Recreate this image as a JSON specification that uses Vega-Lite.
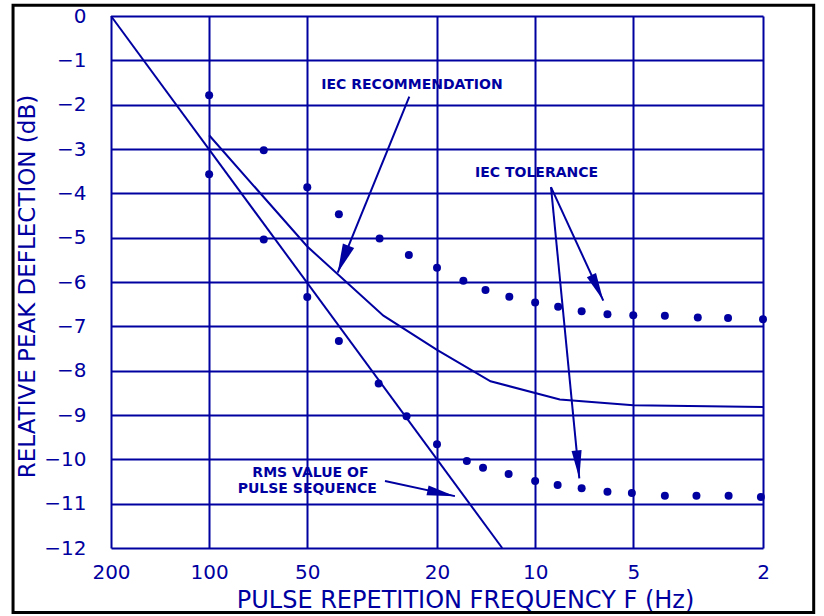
{
  "$schema": "https://vega.github.io/schema/vega-lite/v6.json",
  "width": 652,
  "height": 532,
  "autosize": {"type": "none"},
  "padding": {"left": 111, "top": 16, "right": 61, "bottom": 68},
  "background": "white",
  "config": {"view": {"stroke": null}, "font": "DejaVu Sans"},
  "datasets": {
    "rms": [
      {"f": 200, "db": 0},
      {"f": 12.62, "db": -12}
    ],
    "iec": [
      {"f": 100, "db": -2.69},
      {"f": 50, "db": -5.2},
      {"f": 29.2, "db": -6.76},
      {"f": 20, "db": -7.53},
      {"f": 13.7, "db": -8.24},
      {"f": 8.4, "db": -8.65},
      {"f": 5, "db": -8.78},
      {"f": 2, "db": -8.82}
    ],
    "tolerance": [
      {"bound": "upper", "f": 100, "db": -1.79},
      {"bound": "upper", "f": 68, "db": -3.03},
      {"bound": "upper", "f": 50, "db": -3.86},
      {"bound": "upper", "f": 40, "db": -4.47},
      {"bound": "upper", "f": 30, "db": -5.02},
      {"bound": "upper", "f": 24.4, "db": -5.39},
      {"bound": "upper", "f": 20, "db": -5.68},
      {"bound": "upper", "f": 16.6, "db": -5.97},
      {"bound": "upper", "f": 14.2, "db": -6.18},
      {"bound": "upper", "f": 12, "db": -6.33},
      {"bound": "upper", "f": 10, "db": -6.46},
      {"bound": "upper", "f": 8.5, "db": -6.56},
      {"bound": "upper", "f": 7.2, "db": -6.66},
      {"bound": "upper", "f": 6, "db": -6.73},
      {"bound": "upper", "f": 5, "db": -6.75},
      {"bound": "upper", "f": 4, "db": -6.76},
      {"bound": "upper", "f": 3.17, "db": -6.8},
      {"bound": "upper", "f": 2.56, "db": -6.81},
      {"bound": "upper", "f": 2, "db": -6.84},
      {"bound": "lower", "f": 100, "db": -3.57},
      {"bound": "lower", "f": 68, "db": -5.04},
      {"bound": "lower", "f": 50, "db": -6.34},
      {"bound": "lower", "f": 40, "db": -7.33},
      {"bound": "lower", "f": 30.2, "db": -8.29},
      {"bound": "lower", "f": 24.8, "db": -9.03},
      {"bound": "lower", "f": 20, "db": -9.66},
      {"bound": "lower", "f": 16.2, "db": -10.04},
      {"bound": "lower", "f": 14.45, "db": -10.19},
      {"bound": "lower", "f": 12.06, "db": -10.33},
      {"bound": "lower", "f": 10, "db": -10.49},
      {"bound": "lower", "f": 8.53, "db": -10.58},
      {"bound": "lower", "f": 7.2, "db": -10.65},
      {"bound": "lower", "f": 6, "db": -10.73},
      {"bound": "lower", "f": 5.05, "db": -10.76},
      {"bound": "lower", "f": 4, "db": -10.82},
      {"bound": "lower", "f": 3.2, "db": -10.82},
      {"bound": "lower", "f": 2.55, "db": -10.82},
      {"bound": "lower", "f": 2.03, "db": -10.85}
    ],
    "minorTicks": [
      {"f": 150}, {"f": 90}, {"f": 80}, {"f": 70}, {"f": 60},
      {"f": 40}, {"f": 30}, {"f": 15},
      {"f": 9}, {"f": 8}, {"f": 7}, {"f": 6}, {"f": 4}, {"f": 3}
    ],
    "labels": [
      {"label": "IEC RECOMMENDATION", "f": 23.86, "db": -1.55},
      {"label": "IEC TOLERANCE", "f": 9.9, "db": -3.55},
      {"label": "RMS VALUE OF", "f": 48.9, "db": -10.3},
      {"label": "PULSE SEQUENCE", "f": 50, "db": -10.68}
    ],
    "arrows": [
      {"arrow": "iec", "end": "start", "f": 24.32, "db": -1.82},
      {"arrow": "iec", "end": "tip", "f": 40.34, "db": -5.79},
      {"arrow": "tol1", "end": "start", "f": 8.94, "db": -3.86},
      {"arrow": "tol1", "end": "tip", "f": 6.18, "db": -6.42},
      {"arrow": "tol2", "end": "start", "f": 8.94, "db": -3.86},
      {"arrow": "tol2", "end": "tip", "f": 7.32, "db": -10.43},
      {"arrow": "rms", "end": "start", "f": 28.88, "db": -10.49},
      {"arrow": "rms", "end": "tip", "f": 17.62, "db": -10.83}
    ],
    "frame": [
      {"f": 399.5, "f2": 1.398, "db": 0.244, "db2": -13.453}
    ]
  },
  "encoding": {
    "x": {
      "field": "f",
      "type": "quantitative",
      "scale": {"type": "log", "domain": [2, 200], "reverse": true, "nice": false},
      "axis": {
        "values": [200, 100, 50, 20, 10, 5, 2],
        "format": "d",
        "grid": true,
        "gridColor": "#0000A0",
        "gridWidth": 2,
        "gridOpacity": 1,
        "domain": false,
        "ticks": false,
        "tickSize": 0,
        "labelFont": "DejaVu Sans",
        "labelFontSize": 20,
        "labelColor": "#0000A0",
        "labelPadding": 14,
        "labelFlush": false,
        "labelOverlap": false,
        "title": "PULSE REPETITION FREQUENCY F (Hz)",
        "titleFont": "DejaVu Sans",
        "titleFontSize": 24,
        "titleFontWeight": "normal",
        "titleColor": "#0000A0",
        "titleX": 354,
        "titleY": 52,
        "titleBaseline": "middle"
      }
    },
    "y": {
      "field": "db",
      "type": "quantitative",
      "scale": {"domain": [-12, 0], "nice": false, "zero": false},
      "axis": {
        "values": [0, -1, -2, -3, -4, -5, -6, -7, -8, -9, -10, -11, -12],
        "format": "d",
        "grid": true,
        "gridColor": "#0000A0",
        "gridWidth": 2,
        "gridOpacity": 1,
        "domain": false,
        "ticks": false,
        "tickSize": 0,
        "labelFont": "DejaVu Sans",
        "labelFontSize": 20,
        "labelColor": "#0000A0",
        "labelPadding": 25,
        "labelFlush": false,
        "labelOverlap": false,
        "title": "RELATIVE PEAK DEFLECTION (dB)",
        "titleFont": "DejaVu Sans",
        "titleFontSize": 23,
        "titleFontWeight": "normal",
        "titleColor": "#0000A0",
        "titleX": -84,
        "titleY": 270,
        "titleBaseline": "middle"
      }
    }
  },
  "layer": [
    {
      "data": {"name": "rms"},
      "mark": {"type": "line", "color": "#0000A0", "strokeWidth": 2}
    },
    {
      "data": {"name": "iec"},
      "mark": {"type": "line", "color": "#0000A0", "strokeWidth": 2}
    },
    {
      "data": {"name": "tolerance"},
      "mark": {"type": "circle", "color": "#0000A0", "size": 64, "opacity": 1},
      "encoding": {"detail": {"field": "bound"}}
    },
    {
      "data": {"name": "minorTicks"},
      "mark": {"type": "rule", "color": "#0000A0", "strokeWidth": 2},
      "encoding": {
        "y": {"datum": -12, "type": "quantitative", "scale": {"domain": [-12, 0], "nice": false, "zero": false}},
        "y2": {"datum": -11.8}
      }
    },
    {
      "data": {"name": "arrows"},
      "mark": {"type": "line", "color": "#0000A0", "strokeWidth": 2},
      "encoding": {"detail": {"field": "arrow"}}
    },
    {
      "data": {"name": "arrows"},
      "transform": [{"filter": "datum.arrow == 'iec' && datum.end == 'tip'"}],
      "mark": {"type": "point", "shape": "M0,0L0.42,2L-0.42,2Z", "filled": true, "color": "#0000A0", "size": 841, "opacity": 1, "angle": 202}
    },
    {
      "data": {"name": "arrows"},
      "transform": [{"filter": "datum.arrow == 'tol1' && datum.end == 'tip'"}],
      "mark": {"type": "point", "shape": "M0,0L0.36,2L-0.36,2Z", "filled": true, "color": "#0000A0", "size": 784, "opacity": 1, "angle": 155}
    },
    {
      "data": {"name": "arrows"},
      "transform": [{"filter": "datum.arrow == 'tol2' && datum.end == 'tip'"}],
      "mark": {"type": "point", "shape": "M0,0L0.36,2L-0.36,2Z", "filled": true, "color": "#0000A0", "size": 784, "opacity": 1, "angle": 174.4}
    },
    {
      "data": {"name": "arrows"},
      "transform": [{"filter": "datum.arrow == 'rms' && datum.end == 'tip'"}],
      "mark": {"type": "point", "shape": "M0,0L0.36,2L-0.36,2Z", "filled": true, "color": "#0000A0", "size": 784, "opacity": 1, "angle": 102}
    },
    {
      "data": {"name": "labels"},
      "mark": {"type": "text", "font": "DejaVu Sans", "fontSize": 14, "fontWeight": "bold", "color": "#0000A0", "align": "center", "baseline": "middle"},
      "encoding": {"text": {"field": "label"}}
    },
    {
      "data": {"name": "frame"},
      "mark": {"type": "rect", "fill": "transparent", "stroke": "black", "strokeWidth": 3, "clip": false},
      "encoding": {
        "x": {"field": "f", "type": "quantitative", "scale": {"type": "log", "domain": [2, 200], "reverse": true, "nice": false}},
        "x2": {"field": "f2"},
        "y": {"field": "db", "type": "quantitative", "scale": {"domain": [-12, 0], "nice": false, "zero": false}},
        "y2": {"field": "db2"}
      }
    }
  ]
}
